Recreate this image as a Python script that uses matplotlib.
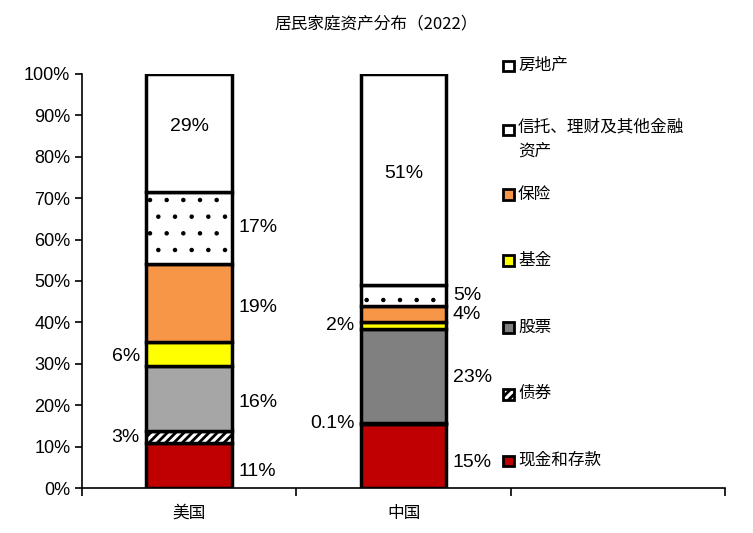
import matplotlib
matplotlib.use("Agg")
import matplotlib.pyplot as plt
from matplotlib.patches import Rectangle
from matplotlib import font_manager as fm
import numpy as np

plt.rcParams['hatch.linewidth'] = 2.0

categories = ["美国", "中国"]
series = ["现金和存款", "债券", "股票", "基金", "保险", "信托、理财及其他金融资产", "房地产"]
us_vals = [10.8, 3.0, 15.6, 5.8, 19.0, 17.2, 28.6]
cn_vals = [15.5, 0.3, 22.7, 1.5, 4.0, 5.0, 51.0]
us_labels = ["11%", "3%", "16%", "6%", "19%", "17%", "29%"]
cn_labels = ["15%", "0.1%", "23%", "2%", "4%", "5%", "51%"]
yticks = [0, 10, 20, 30, 40, 50, 60, 70, 80, 90, 100]

colors = ["#C00000", "white", "#A6A6A6", "#FFFF00", "#F79646", "white", "white"]
cn_stock_color = "#808080"
hatches = [None, "////", None, None, None, ".", None]

# locate a CJK font file robustly
cjk_path = None
for f in fm.fontManager.ttflist:
    if "CJK" in f.name and ("SC" in f.name or cjk_path is None):
        cjk_path = f.fname
        if "SC" in f.name:
            break
if cjk_path is None:
    import glob
    cands = glob.glob("/usr/share/fonts/**/*CJK*", recursive=True)
    cjk_path = cands[0] if cands else None
def cjkfp(size, bold=False):
    if cjk_path:
        return fm.FontProperties(fname=cjk_path, size=size, weight="bold" if bold else "normal")
    return fm.FontProperties(family="Noto Sans CJK SC", size=size)

num = "Liberation Sans"

fig = plt.figure(figsize=(7.53, 5.33), dpi=100)
ax = fig.add_axes([0.109, 0.0844, 0.854, 0.777])

xs = np.arange(len(categories))
width = 0.4
for i, vals in enumerate([us_vals, cn_vals]):
    bottom = 0
    for j, v in enumerate(vals):
        c = colors[j]
        if i == 1 and j == 2:
            c = cn_stock_color
        bars = ax.bar(xs[i], v, width, bottom=bottom, color=c, edgecolor="black",
                      linewidth=2.5, hatch=hatches[j], zorder=3)
        if hatches[j] == ".":
            for b in bars:
                try:
                    b.set_hatch_linewidth(0.8)
                except AttributeError:
                    pass
        bottom += v

us_place = [(1, -1.5), (-1, 0), (1, -1), (-1, -0.5), (1, -1), (1, 0), (0, 1.5)]
cn_place = [(1, -1.5), (-1, 0), (1, -0.5), (-1, 0), (1, 0), (1, 0), (0, 1.5)]
for i, (vals, labs, places) in enumerate([(us_vals, us_labels, us_place),
                                          (cn_vals, cn_labels, cn_place)]):
    cum = np.cumsum([0] + vals)
    for j, (lab, (side, dy)) in enumerate(zip(labs, places)):
        y = (cum[j] + cum[j + 1]) / 2 + dy
        if side == 0:
            ax.text(xs[i], y, lab, ha="center", va="center", fontsize=14, family=num)
        elif side == 1:
            ax.text(xs[i] + width / 2 + 0.03, y, lab, ha="left", va="center", fontsize=14, family=num)
        else:
            ax.text(xs[i] - width / 2 - 0.03, y, lab, ha="right", va="center", fontsize=14, family=num)

ax.set_xlim(-0.5, 2.5)
ax.set_ylim(0, 100)
ax.set_yticks(yticks)
ax.set_yticklabels([f"{t}%" for t in yticks], fontsize=13, family=num)
ax.set_xticks([-0.5, 0.5, 1.5, 2.5])
ax.set_xticklabels([])
ax.tick_params(axis="x", length=6, direction="out", width=1.2)
ax.tick_params(axis="y", length=5, width=1.2)
for k, cat in enumerate(categories):
    ax.text(xs[k], -4, cat, ha="center", va="top", fontproperties=cjkfp(12))
for s in ["top", "right"]:
    ax.spines[s].set_visible(False)
ax.spines["left"].set_linewidth(1.2)
ax.spines["bottom"].set_linewidth(1.2)

fig.text(0.5, 0.955, "居民家庭资产分布（2022）", ha="center", va="center",
         fontproperties=cjkfp(12, bold=True))

leg_items = [("房地产", "white", None, 0.877),
             ("信托、理财及其他金融\n资产", "white", None, 0.757),
             ("保险", "#F79646", None, 0.636),
             ("基金", "#FFFF00", None, 0.512),
             ("股票", cn_stock_color, None, 0.386),
             ("债券", "white", "////", 0.261),
             ("现金和存款", "#C00000", None, 0.136)]
for name, c, h, yy in leg_items:
    r = Rectangle((0.668, yy - 0.011), 0.014, 0.02, transform=fig.transFigure,
                  facecolor=c, edgecolor="black", linewidth=2, hatch=h)
    fig.patches.append(r)
    if "\n" in name:
        fig.text(0.688, yy + 0.02, name, ha="left", va="top",
                 fontproperties=cjkfp(12), linespacing=1.5)
    else:
        fig.text(0.688, yy, name, ha="left", va="center", fontproperties=cjkfp(12))

fig.savefig("out.png", dpi=100)
